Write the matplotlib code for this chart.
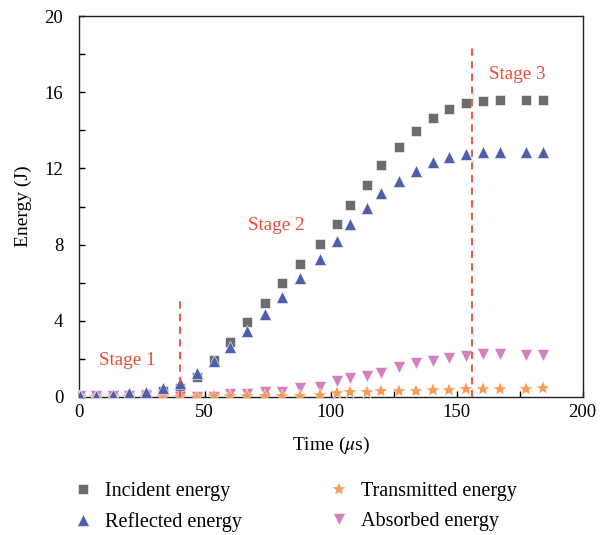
import matplotlib
matplotlib.use("Agg")
import matplotlib.pyplot as plt
from matplotlib.ticker import MultipleLocator

plt.rcParams['font.family'] = ['Liberation Serif', 'DejaVu Serif']
plt.rcParams['mathtext.fontset'] = 'stix'

# data
time_us = [0.5, 7, 13.5, 20, 26.7, 33.3, 40.3, 47, 53.8, 60, 67, 74, 80.6, 88,
           95.8, 102.4, 107.7, 114.3, 120, 127, 133.8, 140.5, 147, 153.7, 160.6,
           167.2, 177.5, 184.4]
incident = [0.03, 0.04, 0.06, 0.1, 0.15, 0.3, 0.45, 1.03, 1.95, 2.87, 3.95, 4.95,
            5.97, 6.98, 8.03, 9.07, 10.1, 11.13, 12.18, 13.14, 13.98, 14.63, 15.1,
            15.42, 15.54, 15.57, 15.59, 15.59]
reflected = [0.03, 0.05, 0.1, 0.19, 0.28, 0.45, 0.72, 1.24, 1.9, 2.64, 3.48, 4.36,
             5.27, 6.26, 7.24, 8.17, 9.1, 9.94, 10.69, 11.36, 11.88, 12.32, 12.61,
             12.76, 12.84, 12.84, 12.87, 12.87]
transmitted = [0.02, 0.02, 0.02, 0.02, 0.02, 0.02, 0.02, 0.02, 0.03, 0.03, 0.04,
               0.04, 0.05, 0.05, 0.1, 0.19, 0.25, 0.28, 0.31, 0.31, 0.33, 0.37,
               0.37, 0.4, 0.42, 0.42, 0.42, 0.46]
absorbed = [0.03, 0.03, 0.03, 0.03, 0.03, 0.03, 0.0, 0.0, 0.02, 0.15, 0.18, 0.28,
            0.28, 0.45, 0.54, 0.86, 0.98, 1.1, 1.28, 1.56, 1.77, 1.9, 2.06, 2.17,
            2.26, 2.26, 2.2, 2.2]

stage_lines = [(40.3, 5.3), (156.3, 18.5)]
stage_labels = [("Stage 1", 19.5, 1.9), ("Stage 2", 78.4, 9.0), ("Stage 3", 174, 16.95)]

c_inc = '#6b6c6e'
c_ref = '#4f5fad'
c_tra = '#f79b55'
c_abs = '#d57fbb'
c_stage = '#ee4a36'

fig = plt.figure(figsize=(6, 5.35), dpi=100)
ax = fig.add_axes([0.131, 0.258, 0.84, 0.712])

ax.plot(time_us, incident, 's', color=c_inc, ms=6.5, mec='white', mew=0.4,
        label='Incident energy', zorder=3)
ax.plot(time_us, absorbed, 'v', color=c_abs, ms=8.5, mec='white', mew=0.4,
        label='Absorbed energy', zorder=3)
ax.plot(time_us, transmitted, '*', color=c_tra, ms=10.5, mec='white', mew=0.3,
        label='Transmitted energy', zorder=4)
ax.plot(time_us, reflected, '^', color=c_ref, ms=8.5, mec='white', mew=0.4,
        label='Reflected energy', zorder=5)

for xv, top in stage_lines:
    ax.plot([xv, xv], [0, top], '--', color=c_stage, lw=1.3, dashes=(4, 3), zorder=6)
for txt, xv, yv in stage_labels:
    ax.text(xv, yv, txt, color=c_stage, fontsize=13.7, ha='center', va='center')

ax.set_xlim(0, 200)
ax.set_ylim(0, 20)
ax.xaxis.set_major_locator(MultipleLocator(50))
ax.xaxis.set_minor_locator(MultipleLocator(25))
ax.yaxis.set_major_locator(MultipleLocator(4))
ax.yaxis.set_minor_locator(MultipleLocator(2))
ax.tick_params(which='both', direction='in', length=4, width=1, labelsize=13.5,
               top=False, right=False)
ax.tick_params(axis='x', pad=5)
ax.tick_params(axis='y', pad=11)
for s in ax.spines.values():
    s.set_linewidth(1)
    s.set_color('#222222')

ax.set_xlabel('Time ($\\mu$s)', fontsize=14, labelpad=10)
ax.set_ylabel('Energy (J)', fontsize=14, labelpad=9)

h, l = ax.get_legend_handles_labels()
order = [0, 3, 2, 1]
fig.legend([h[i] for i in order], [l[i] for i in order], ncol=2, frameon=False,
           loc='upper left', bbox_to_anchor=(0.122, 0.099), fontsize=14.5,
           columnspacing=4.3, handletextpad=0.6, labelspacing=0.55, handlelength=1.0,
           borderaxespad=0, borderpad=0)

fig.savefig('out.png', dpi=100)
